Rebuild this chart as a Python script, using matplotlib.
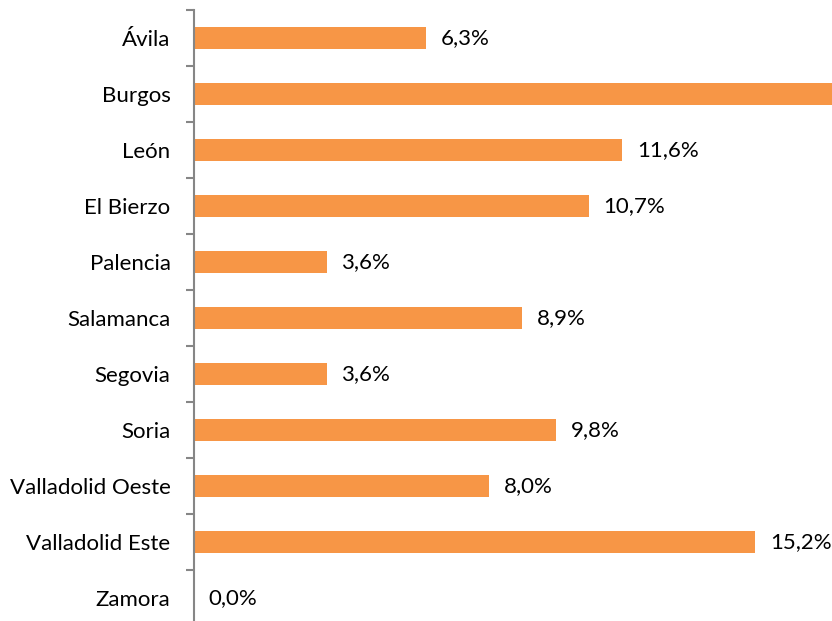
import matplotlib
matplotlib.use("Agg")
import matplotlib.pyplot as plt

categories = ["Ávila", "Burgos", "León", "El Bierzo", "Palencia", "Salamanca",
              "Segovia", "Soria", "Valladolid Oeste", "Valladolid Este", "Zamora"]
values = [6.3, 18.6, 11.6, 10.7, 3.6, 8.9, 3.6, 9.8, 8.0, 15.2, 0.0]
labels = ["6,3%", "18,6%", "11,6%", "10,7%", "3,6%", "8,9%", "3,6%", "9,8%", "8,0%", "15,2%", "0,0%"]

plt.rcParams['font.family'] = ['Lato', 'DejaVu Sans']

fig = plt.figure(figsize=(8.32, 6.21), dpi=100)
ax = fig.add_axes([193.5/832, -5/621, 1 - 193.5/832, 616/621])

n = len(categories)
ypos = list(range(n))
xmax = 17.28
ax.barh(ypos, values, height=0.4, color="#F79646")
ax.set_ylim(n - 0.5, -0.5)
ax.set_xlim(0, xmax)

for y, v, lab in zip(ypos, values, labels):
    if v + 0.4 < xmax:
        ax.text(v + 0.4, y, lab, va="center", ha="left", fontsize=16, color="black")

ax.set_yticks(ypos)
ax.set_yticklabels(categories, fontsize=16)
ax.set_yticks([i - 0.5 for i in range(n + 1)], minor=True)
ax.tick_params(axis='y', which='major', length=0, pad=16.5)
ax.tick_params(axis='y', which='minor', length=6, width=1.5, color="#868686")
ax.set_xticks([])
for s in ["top", "right", "bottom"]:
    ax.spines[s].set_visible(False)
ax.spines["left"].set_color("#868686")
ax.spines["left"].set_linewidth(1.5)

fig.savefig("out.png", dpi=100)
